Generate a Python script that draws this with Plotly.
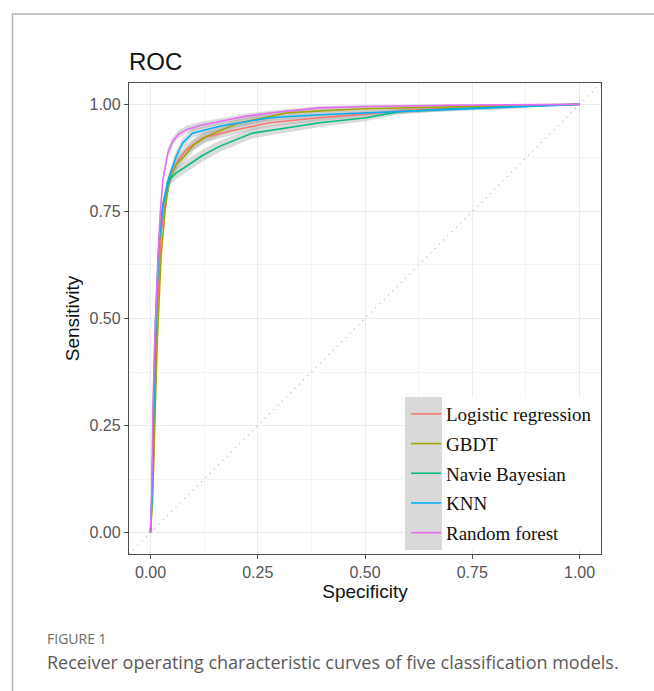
import plotly.graph_objects as go

# ---------------- data ----------------
models = ["Logistic regression", "GBDT", "Navie Bayesian", "KNN", "Random forest"]
colors = ["#F8766D", "#A3A500", "#00BF7D", "#00B0F6", "#E76BF3"]

lr_x = [0, 0.005, 0.010, 0.015, 0.025, 0.035, 0.050, 0.065, 0.083, 0.122, 0.200, 0.277, 0.394, 0.500, 0.600, 0.750, 0.900, 1.0]
lr_y = [0, 0.100, 0.300, 0.500, 0.700, 0.780, 0.840, 0.870, 0.894, 0.922, 0.941, 0.957, 0.969, 0.978, 0.986, 0.993, 0.998, 1.0]
lr_ci = [0, 0.004, 0.006, 0.008, 0.010, 0.012, 0.013, 0.013, 0.013, 0.012, 0.010, 0.009, 0.008, 0.007, 0.006, 0.004, 0.002, 0]

gb_x = [0, 0.005, 0.010, 0.016, 0.025, 0.035, 0.044, 0.060, 0.079, 0.100, 0.130, 0.200, 0.316, 0.394, 0.500, 0.700, 0.900, 1.0]
gb_y = [0, 0.080, 0.250, 0.450, 0.650, 0.760, 0.824, 0.860, 0.879, 0.905, 0.925, 0.955, 0.980, 0.985, 0.990, 0.995, 0.999, 1.0]
gb_ci = [0, 0.004, 0.006, 0.008, 0.010, 0.012, 0.013, 0.014, 0.014, 0.013, 0.012, 0.010, 0.007, 0.006, 0.005, 0.003, 0.001, 0]

nb_x = [0, 0.004, 0.008, 0.013, 0.020, 0.030, 0.044, 0.060, 0.083, 0.120, 0.161, 0.238, 0.316, 0.394, 0.503, 0.580, 0.700, 0.850, 1.0]
nb_y = [0, 0.100, 0.300, 0.500, 0.680, 0.770, 0.824, 0.840, 0.855, 0.880, 0.902, 0.933, 0.945, 0.957, 0.969, 0.983, 0.990, 0.995, 1.0]
nb_ci = [0, 0.004, 0.006, 0.008, 0.010, 0.012, 0.013, 0.014, 0.014, 0.014, 0.013, 0.012, 0.011, 0.010, 0.008, 0.006, 0.005, 0.003, 0]

kn_x = [0, 0.004, 0.007, 0.012, 0.020, 0.028, 0.040, 0.060, 0.075, 0.098, 0.161, 0.277, 0.394, 0.500, 0.600, 0.810, 0.900, 1.0]
kn_y = [0, 0.100, 0.300, 0.500, 0.680, 0.760, 0.820, 0.879, 0.910, 0.933, 0.949, 0.969, 0.976, 0.980, 0.985, 0.992, 0.996, 1.0]
kn_ci = [0, 0.004, 0.006, 0.008, 0.010, 0.012, 0.013, 0.012, 0.011, 0.010, 0.009, 0.008, 0.007, 0.006, 0.005, 0.004, 0.002, 0]

rf_x = [0, 0.003, 0.006, 0.010, 0.017, 0.023, 0.029, 0.040, 0.051, 0.065, 0.083, 0.120, 0.161, 0.220, 0.277, 0.394, 0.500, 0.700, 0.990, 1.0]
rf_y = [0, 0.100, 0.300, 0.450, 0.630, 0.750, 0.824, 0.885, 0.913, 0.930, 0.941, 0.952, 0.960, 0.972, 0.980, 0.992, 0.995, 0.998, 1.000, 1.0]
rf_ci = [0, 0.004, 0.006, 0.008, 0.010, 0.011, 0.011, 0.011, 0.010, 0.009, 0.009, 0.008, 0.007, 0.006, 0.005, 0.004, 0.003, 0.002, 0, 0]

series = [(lr_x, lr_y, lr_ci), (gb_x, gb_y, gb_ci), (nb_x, nb_y, nb_ci),
          (kn_x, kn_y, kn_ci), (rf_x, rf_y, rf_ci)]

x_ticks = [0, 0.25, 0.5, 0.75, 1.0]
y_ticks = [0, 0.25, 0.5, 0.75, 1.0]
axis_range = [-0.05, 1.05]

# ---------------- figure ----------------
W, H = 654, 691
fig = go.Figure()

# confidence bands
for (xs, ys, ci) in series:
    up = [min(1.0, y + c) for y, c in zip(ys, ci)]
    lo = [max(0.0, y - c) for y, c in zip(ys, ci)]
    fig.add_trace(go.Scatter(
        x=list(xs) + list(xs)[::-1], y=up + lo[::-1],
        fill="toself", fillcolor="rgba(160,160,160,0.38)",
        line=dict(width=0), mode="lines", showlegend=False, hoverinfo="skip"))

# diagonal reference
fig.add_trace(go.Scatter(x=axis_range, y=axis_range, mode="lines",
                         line=dict(color="#b0b0b0", width=1.2, dash="1px,5px"),
                         showlegend=False, hoverinfo="skip"))

# ROC curves
for i, ((xs, ys, ci), name, col) in enumerate(zip(series, models, colors)):
    fig.add_trace(go.Scatter(x=xs, y=ys, mode="lines", name=name,
                             line=dict(color=col, width=1.6),
                             legendgroup=f"g{i}"))

def px_x(p):
    return p / W

def px_y(p):
    return 1 - p / H

x0, x1 = 129, 601
y0, y1 = 83, 554

axis_common = dict(
    range=axis_range, showline=True, linecolor="#4d4d4d", linewidth=1.3, mirror=True,
    ticks="outside", ticklen=4, tickcolor="#4d4d4d", tickwidth=1,
    tickformat=".2f", gridcolor="#ebebeb", gridwidth=1, zeroline=False,
    tickfont=dict(family="Liberation Sans, Arial", size=16, color="#555555"),
    minor=dict(dtick=0.125, showgrid=True, gridcolor="#f4f4f4", gridwidth=1, ticks=""),
)

fig.update_layout(
    width=W, height=H, margin=dict(l=0, r=0, t=0, b=0),
    paper_bgcolor="white", plot_bgcolor="white",
    xaxis=dict(axis_common, tickvals=x_ticks, domain=[px_x(x0), px_x(x1)],
               title=dict(text="Specificity", standoff=4,
                          font=dict(family="Liberation Sans, Arial", size=19, color="#111"))),
    yaxis=dict(axis_common, tickvals=y_ticks, domain=[px_y(y1), px_y(y0)],
               title=dict(text="Sensitivity", standoff=4,
                          font=dict(family="Liberation Sans, Arial", size=19, color="#111"))),
    showlegend=True,
    legend=dict(x=px_x(406), y=px_y(395), xanchor="left", yanchor="top",
                bgcolor="rgba(0,0,0,0)", borderwidth=0, tracegroupgap=2,
                font=dict(family="Liberation Serif, Times New Roman", size=19, color="#111")),
)

# legend background: white box and gray key column
fig.add_shape(type="rect", xref="paper", yref="paper", layer="above",
              x0=px_x(404), x1=px_x(600), y0=px_y(550), y1=px_y(397),
              fillcolor="white", line=dict(width=0))
fig.add_shape(type="rect", xref="paper", yref="paper", layer="above",
              x0=px_x(405), x1=px_x(442), y0=px_y(550), y1=px_y(397),
              fillcolor="#d9d9d9", line=dict(width=0))

# outer figure frame
fig.add_shape(type="line", xref="paper", yref="paper", x0=px_x(12), x1=1.0,
              y0=px_y(14), y1=px_y(14), line=dict(color="#b3b3b3", width=1.5))
fig.add_shape(type="line", xref="paper", yref="paper", x0=px_x(12.5), x1=px_x(12.5),
              y0=px_y(14), y1=0, line=dict(color="#b3b3b3", width=1.5))

# title and caption
fig.add_annotation(text="ROC", xref="paper", yref="paper", x=px_x(127), y=px_y(62),
                   xanchor="left", yanchor="middle", showarrow=False,
                   font=dict(family="Liberation Sans, Arial", size=24, color="#111"))
fig.add_annotation(text="FIGURE 1", xref="paper", yref="paper", x=px_x(45), y=px_y(638),
                   xanchor="left", yanchor="middle", showarrow=False,
                   font=dict(family="Open Sans", size=14, color="#6b6b6b"))
fig.add_annotation(text="Receiver operating characteristic curves of five classification models.",
                   xref="paper", yref="paper", x=px_x(45), y=px_y(662),
                   xanchor="left", yanchor="middle", showarrow=False,
                   font=dict(family="Open Sans", size=18, color="#5a5a5a"))

fig.write_html("out.html", config={"displayModeBar": False},
               post_script="document.body.style.margin='0px';")
